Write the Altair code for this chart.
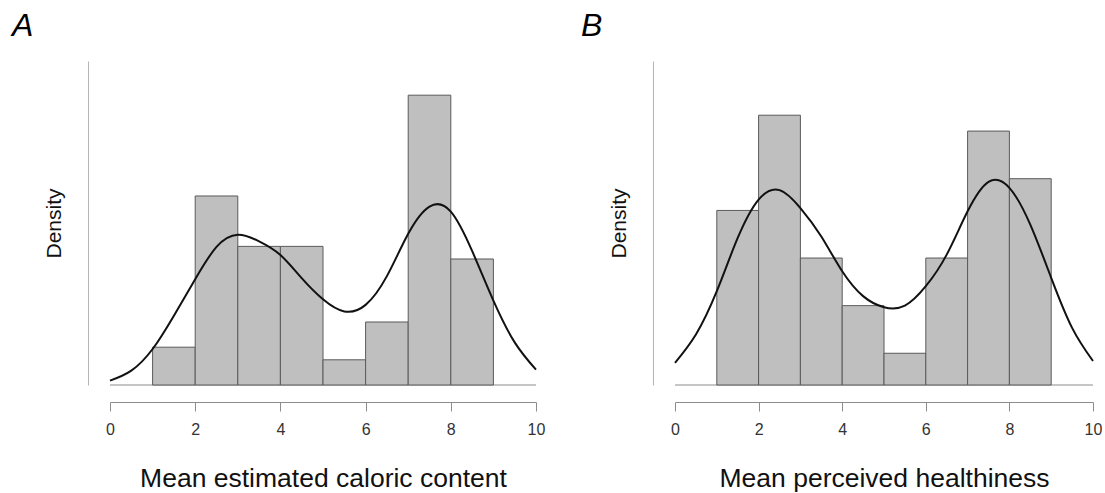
import altair as alt
import pandas as pd

# Histogram bins (width 1) and observation counts per bin
bin_start = [1, 2, 3, 4, 5, 6, 7, 8]
bin_width = 1
caloric_counts = [3, 15, 11, 11, 2, 5, 23, 10]
health_counts = [11, 17, 8, 5, 2, 8, 16, 13]

# Kernel density estimates sampled every half unit along the x range
kde_x = [0, 0.5, 1, 1.5, 2, 2.5, 3, 3.5, 4, 4.5, 5, 5.5, 6, 6.5, 7, 7.5, 8, 8.5, 9, 9.5, 10]
caloric_kde_y = [0.0043, 0.0142, 0.0357, 0.0688, 0.105, 0.137, 0.149, 0.1425, 0.129, 0.106, 0.085,
                 0.073, 0.0795, 0.108, 0.150, 0.177, 0.172, 0.133, 0.0837, 0.0423, 0.0152]
health_kde_y = [0.0175, 0.0398, 0.0739, 0.1158, 0.146, 0.1535, 0.1394, 0.117, 0.0896, 0.070, 0.0613,
                0.0625, 0.0778, 0.1027, 0.1368, 0.1600, 0.1553, 0.1263, 0.0844, 0.045, 0.0189]

x_ticks = [0, 2, 4, 6, 8, 10]
FONT = "Liberation Sans"


def panel(counts, kde_y, y_top, width, label, label_dx, x_title):
    n = sum(counts)
    bars = pd.DataFrame({
        "start": bin_start,
        "end": [b + bin_width for b in bin_start],
        "density": [c / (n * bin_width) for c in counts],
    })
    curve = pd.DataFrame({"start": kde_x, "density": kde_y})
    floor = pd.DataFrame({"start": [0], "end": [10], "density": [0]})

    x_enc = alt.X(
        "start:Q",
        scale=alt.Scale(domain=[0, 10], nice=False, zero=False),
        axis=alt.Axis(
            title=x_title, values=x_ticks, format="d", grid=False,
            offset=17, tickSize=9, tickColor="#8c8c8c", domainColor="#8c8c8c",
            labelFontSize=16, labelColor="#333333", labelPadding=10, labelFont=FONT,
            labelFlush=False, labelOverlap=False,
            titleFontSize=26.5, titleFontWeight="normal", titleColor="#111111",
            titlePadding=28, titleFont=FONT,
        ),
    )
    y_enc = alt.Y(
        "density:Q",
        scale=alt.Scale(domain=[0, y_top], nice=False, zero=True),
        axis=alt.Axis(
            title="Density", labels=False, ticks=False, grid=False,
            offset=22, domainColor="#b5b5b5",
            titleFontSize=21, titleFontWeight="normal", titleColor="#111111",
            titlePadding=24, titleFont=FONT,
        ),
    )

    base = alt.Chart(floor).mark_rule(color="#8c8c8c", strokeWidth=1).encode(x=x_enc, x2="end:Q", y=y_enc)
    hist = alt.Chart(bars).mark_rect(fill="#bfbfbf", stroke="#5a5a5a", strokeWidth=1).encode(
        x=x_enc, x2="end:Q", y=y_enc
    )
    kde = alt.Chart(curve).mark_line(color="#111111", strokeWidth=2, interpolate="natural").encode(
        x=x_enc, y=y_enc
    )
    return alt.layer(base, hist, kde).properties(
        width=width,
        height=324,
        title=alt.Title(
            label, anchor="start", frame="group", dx=label_dx, offset=18,
            fontSize=32, fontStyle="italic", fontWeight="normal", font=FONT, color="#000000",
        ),
    )


left = panel(caloric_counts, caloric_kde_y, 0.3214, 426, "A", -98, "Mean estimated caloric content")
right = panel(health_counts, health_kde_y, 0.2552, 418, "B", -94, "Mean perceived healthiness")

chart = (
    alt.hconcat(left, right, spacing=36)
    .properties(padding={"left": 12, "top": 10, "right": 0, "bottom": 0})
    .configure(font=FONT, background="white")
    .configure_view(stroke=None)
)

chart.save("out.html", embed_options={"renderer": "svg", "actions": False})
